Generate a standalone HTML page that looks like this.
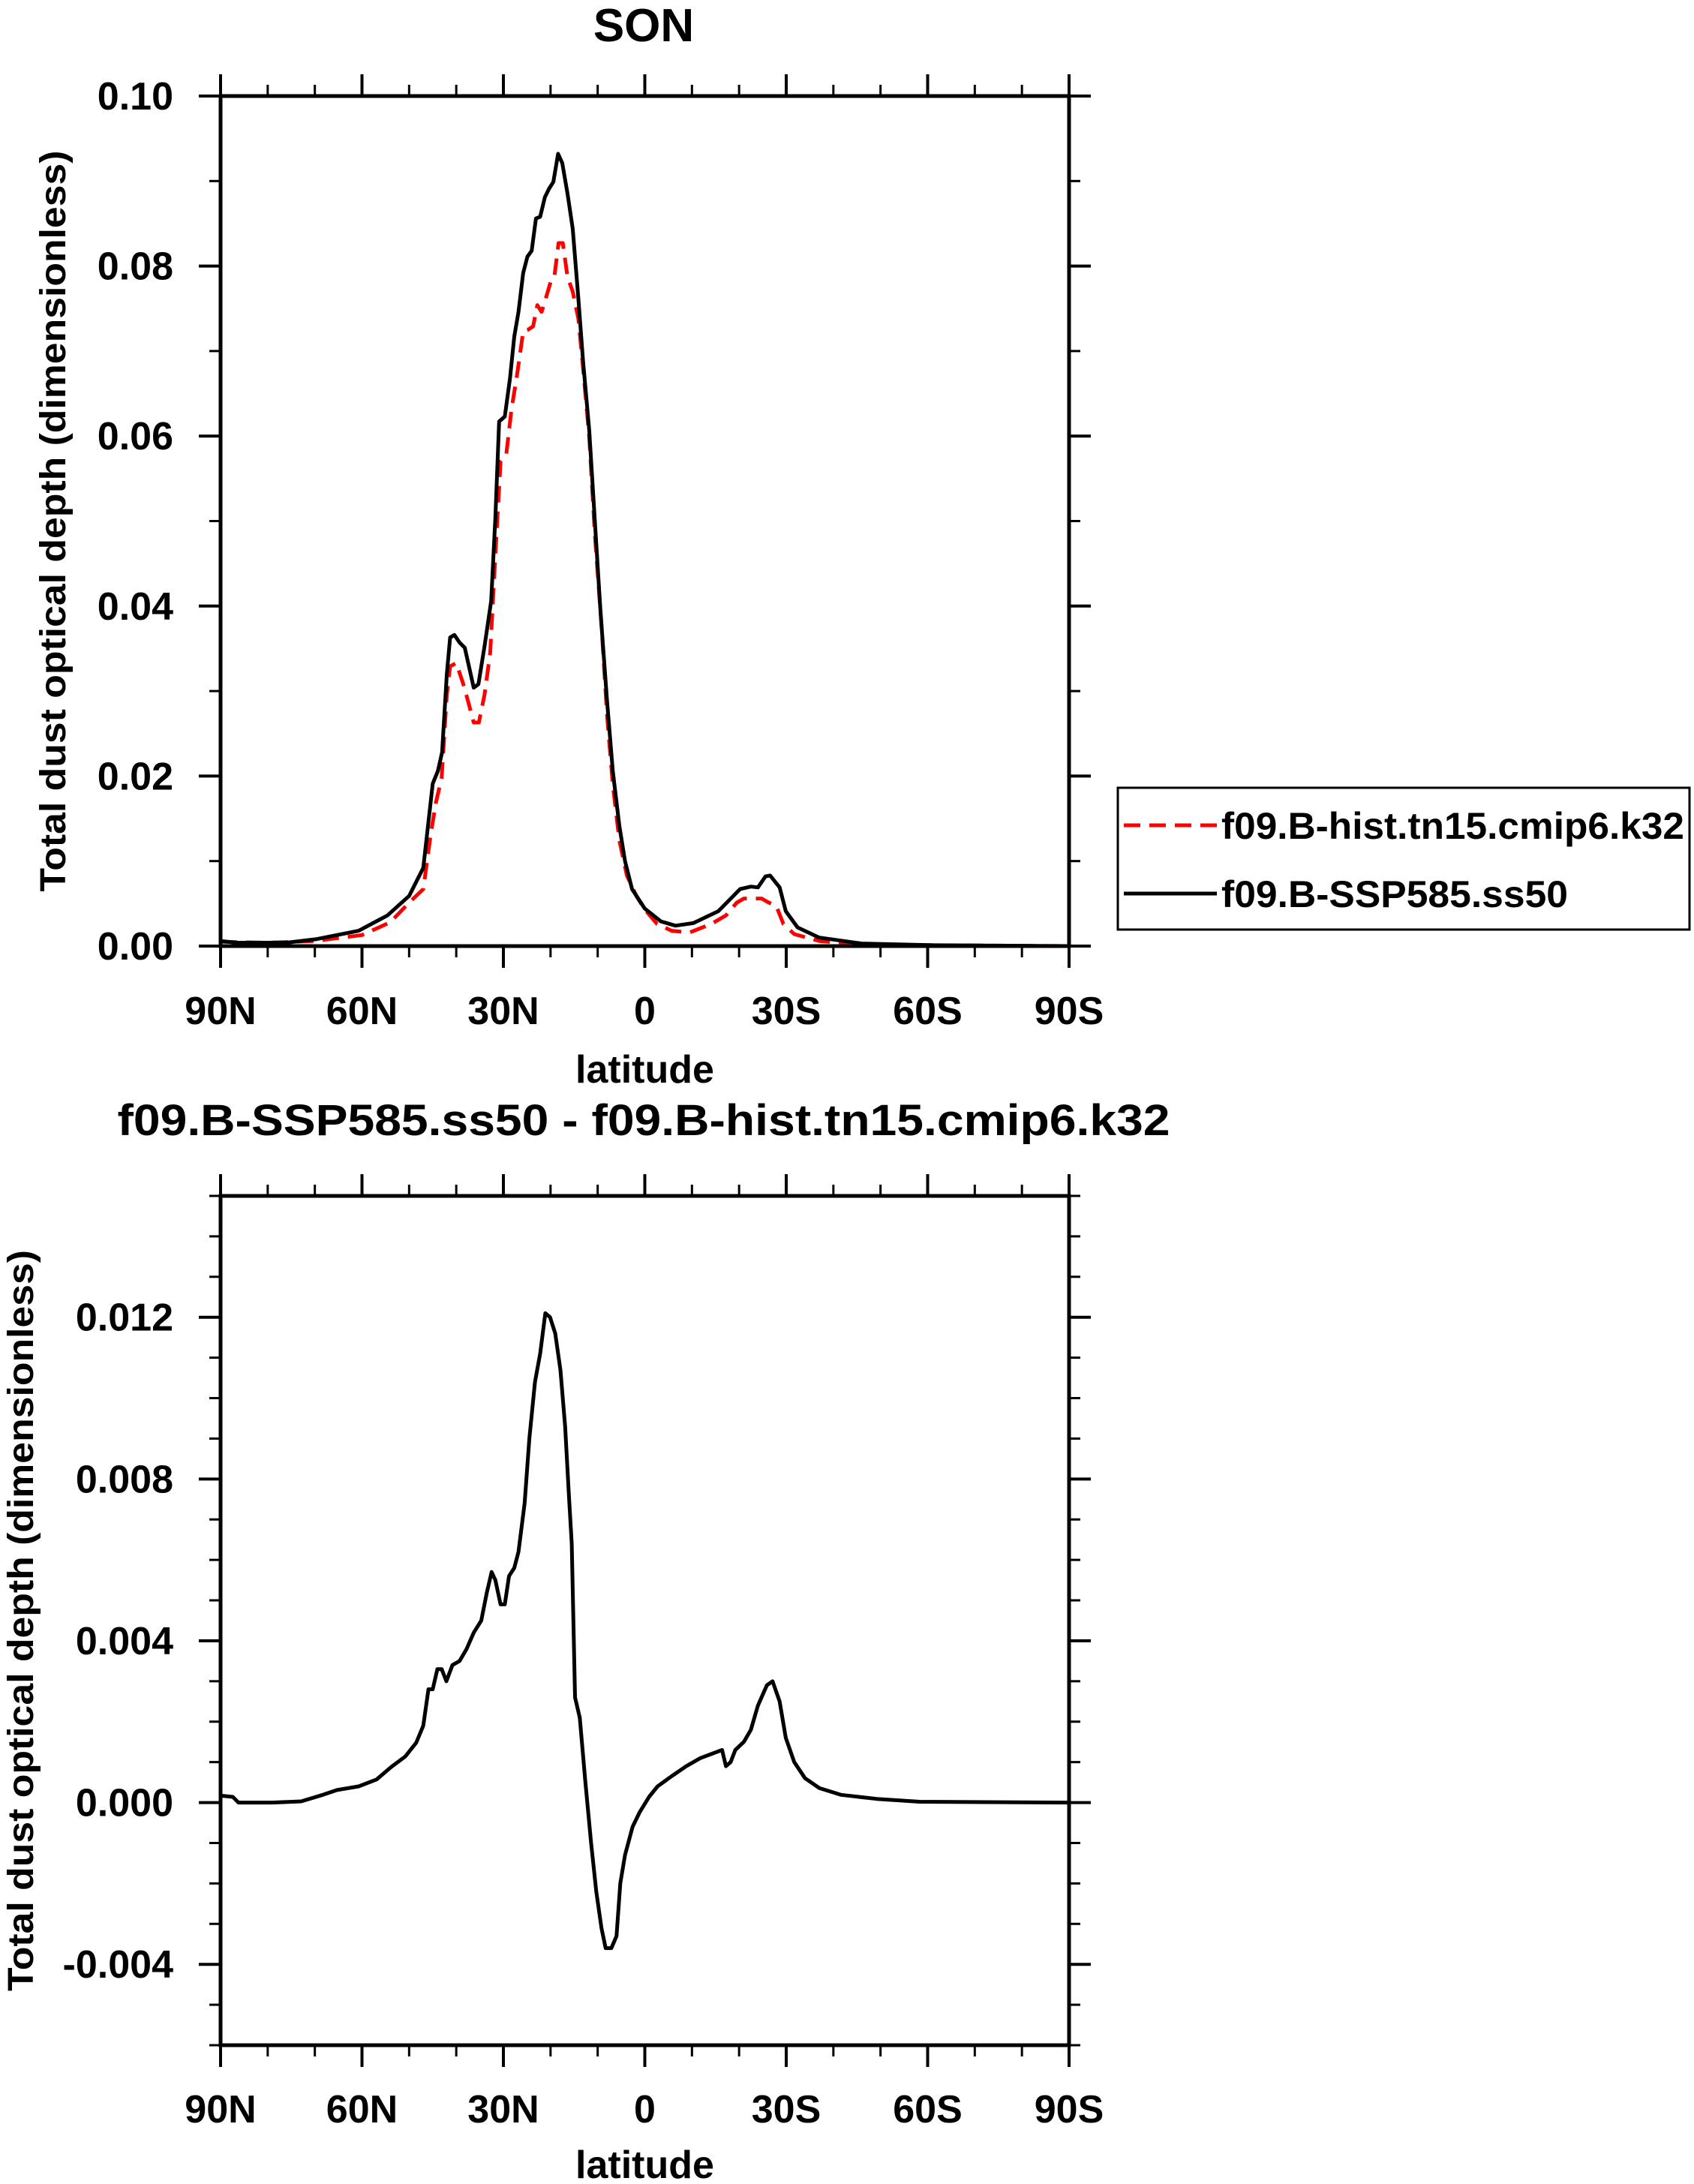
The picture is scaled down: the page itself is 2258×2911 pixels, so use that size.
<!DOCTYPE html>
<html><head><meta charset="utf-8"><style>
html,body{margin:0;padding:0;background:#fff;}
svg{display:block;}
text{font-family:"Liberation Sans",sans-serif;font-weight:bold;fill:#000;}
</style></head>
<body>
<svg id="chart" width="2258" height="2911" viewBox="0 0 2258 2911" xmlns="http://www.w3.org/2000/svg">
<g id="g1"></g>
<g id="g2"></g>
</svg>
<script>
const NS="http://www.w3.org/2000/svg";
// x ticks
const xTickLats=[90,60,30,0,-30,-60,-90];
const xTickLabels=["90N","60N","30N","0","30S","60S","90S"];
// top panel data
const histLat=[90,80,70,60,54,50,47,45.4,44.3,43.1,42,41.3,40,38.5,37.5,36.3,35.2,34,32.8,31.7,30.6,29.4,28.3,27.1,25.8,24.8,23.7,22.8,21.9,21,19.9,19.2,18.3,17.4,16.4,15.3,14.1,13.1,11.8,10.6,9.2,8,6.8,5.4,3.8,1.8,0,-2.6,-5.7,-9.5,-14.1,-17.2,-19.5,-21,-23,-24.8,-26,-27.9,-29.4,-31.7,-37,-46,-61,-90];
const histVal=[0.0005,0.0004,0.0006,0.0013,0.0028,0.0051,0.0067,0.0132,0.0169,0.0198,0.0296,0.0329,0.0333,0.0308,0.0288,0.0263,0.0263,0.0296,0.0345,0.046,0.057,0.0578,0.0631,0.0672,0.0723,0.0725,0.0729,0.0754,0.0746,0.0762,0.0783,0.0787,0.0827,0.0827,0.0787,0.077,0.0738,0.068,0.0599,0.0484,0.0378,0.0271,0.019,0.0124,0.0083,0.0059,0.0043,0.0026,0.0018,0.0016,0.0026,0.0036,0.0051,0.0056,0.0056,0.0056,0.0052,0.0047,0.0026,0.0014,0.0006,0.0002,0.0001,0];
const sspLat=[90,86.6,76,69.8,60.7,54.6,50,47,45,43.9,43,42,41.3,40.4,39.3,38.2,37.3,36.3,35.3,34,32.6,31.7,30.9,29.7,28.6,27.7,26.8,25.8,24.9,24,23.1,22.2,21.2,20.3,19.4,18.4,17.5,16.4,15.3,14.1,13.1,11.8,10.6,9.4,8,6.8,5.4,4.2,2.7,0,-3.4,-6.5,-10.3,-15.6,-20.2,-22.5,-24,-25.6,-26.6,-28.6,-29.9,-32.4,-37,-46,-61.4,-90];
const sspVal=[0.0006,0.0004,0.0004,0.0008,0.0018,0.0036,0.0059,0.0092,0.0191,0.0206,0.0228,0.032,0.0363,0.0366,0.0357,0.0351,0.0329,0.0304,0.0308,0.0353,0.0406,0.0504,0.0617,0.0623,0.0668,0.0717,0.0746,0.0792,0.0811,0.0818,0.0856,0.0858,0.0881,0.0891,0.0899,0.0932,0.0921,0.0885,0.0844,0.0762,0.0688,0.0607,0.050,0.0394,0.0288,0.0206,0.0141,0.010,0.0067,0.0044,0.0029,0.0024,0.0027,0.0041,0.0067,0.0070,0.0069,0.0082,0.0083,0.0069,0.0041,0.0022,0.0010,0.0003,0.0001,0];
const topYTicks=[0,0.02,0.04,0.06,0.08,0.10];
const topYLabels=["0.00","0.02","0.04","0.06","0.08","0.10"];
// difference panel data
const diffLat=[90,87.4,86.2,79,72.9,68.3,65.3,60.7,56.9,53.8,50.8,48.5,47,45.9,45,44,43.1,42.1,40.8,39.3,37.8,36.3,34.7,33.5,32.5,31.7,30.6,29.7,28.8,27.7,26.8,25.5,24.5,23.3,22.2,21.1,20.1,19,17.9,16.9,16.1,15.5,14.8,13.8,12.6,11.4,10.3,9.2,8.3,7.1,6,5.2,4.2,2.6,1.1,-0.9,-2.7,-5.8,-8.8,-11.8,-14.1,-16.4,-17.2,-18.2,-19.2,-21,-22.5,-24,-25.9,-27.1,-28.6,-29.9,-31.7,-34,-37,-41.6,-49.2,-58.3,-90];
const diffVal=[0.00017,0.00014,0,0,0.00003,0.00019,0.00031,0.0004,0.00057,0.00088,0.00114,0.00148,0.0019,0.0028,0.0028,0.0033,0.0033,0.003,0.0034,0.0035,0.0038,0.0042,0.0045,0.0052,0.0057,0.0055,0.0049,0.0049,0.0056,0.0058,0.0062,0.0074,0.009,0.0104,0.0111,0.0121,0.012,0.0116,0.0107,0.0093,0.0076,0.0064,0.0026,0.0021,0.0005,-0.001,-0.0022,-0.0031,-0.0036,-0.0036,-0.0033,-0.002,-0.0013,-0.0006,-0.00024,0.00014,0.0004,0.00066,0.0009,0.0011,0.0012,0.0013,0.0009,0.001,0.0013,0.0015,0.0018,0.0024,0.0029,0.003,0.0025,0.0016,0.001,0.0006,0.00036,0.00019,0.00009,0.00002,0];
const botYTicks=[-0.004,0,0.004,0.008,0.012];
const botYLabels=["-0.004","0.000","0.004","0.008","0.012"];

const L=294,R=1425;
function mk(parent,tag,attrs,text){const e=document.createElementNS(NS,tag);for(const k in attrs)e.setAttribute(k,attrs[k]);if(text!==undefined)e.textContent=text;parent.appendChild(e);return e;}
function xs(lat){return L+(90-lat)/180*(R-L);}

function panel(g,T,B,ymin,ymax,yMajor,yLabels,minorStep,xlabY,latY,ytitleX){
  const ys=v=>B-(v-ymin)/(ymax-ymin)*(B-T);
  const n=Math.round((ymax-ymin)/minorStep);
  for(let i=0;i<=n;i++){const v=ymin+i*minorStep;const y=ys(v);
    const t1=mk(g,'line',{x1:L-15,x2:L,y1:y,y2:y,stroke:'#000','stroke-width':3});
    
    const t2=mk(g,'line',{x1:R,x2:R+15,y1:y,y2:y,stroke:'#000','stroke-width':3});
    }
  yMajor.forEach((v,i)=>{const y=ys(v);
    const t1=mk(g,'line',{x1:L-29,x2:L,y1:y,y2:y,stroke:'#000','stroke-width':4});
    
    const t2=mk(g,'line',{x1:R,x2:R+29,y1:y,y2:y,stroke:'#000','stroke-width':4});
    
    const tl=mk(g,'text',{x:231,y:y+18,'text-anchor':'end','font-size':52},yLabels[i]);
    });
  for(let lat=90;lat>=-90;lat-=10){const x=xs(lat);const maj=(lat%30===0);const len=maj?29:15;const w=maj?4:3;
    const a=mk(g,'line',{x1:x,x2:x,y1:T-len,y2:T,stroke:'#000','stroke-width':w});
    
    const b=mk(g,'line',{x1:x,x2:x,y1:B,y2:B+len,stroke:'#000','stroke-width':w});
    }
  xTickLats.forEach((lat,i)=>{const t=mk(g,'text',{x:xs(lat),y:xlabY+18,'text-anchor':'middle','font-size':52},xTickLabels[i]);
    });
  const lt=mk(g,'text',{x:(L+R)/2,y:latY+18,'text-anchor':'middle','font-size':52},'latitude');
  
  const cy=(T+B)/2;
  const yt=mk(g,'text',{x:ytitleX,y:cy,'text-anchor':'middle','font-size':48,transform:`rotate(-90 ${ytitleX} ${cy})`,dy:16,textLength:988,lengthAdjust:'spacingAndGlyphs'},'Total dust optical depth (dimensionless)');
  
  return ys;
}
function line(g,lats,vals,ys,color,dash,name){
  const d=lats.map((la,i)=>(i?'L':'M')+xs(la).toFixed(1)+' '+ys(vals[i]).toFixed(1)).join(' ');
  const p=mk(g,'path',{d:d,fill:'none',stroke:color,'stroke-width':5,'stroke-linejoin':'round'});
  if(dash)p.setAttribute('stroke-dasharray',dash);
  
  
}
function frame(g,T,B){const f=mk(g,'rect',{x:L,y:T,width:R-L,height:B-T,fill:'none',stroke:'#000','stroke-width':5});
  }

const g1=document.getElementById('g1');
const t1=mk(g1,'text',{x:858,y:55,'text-anchor':'middle','font-size':62},'SON');

const ys1=panel(g1,128,1261,0,0.10,topYTicks,topYLabels,0.01,1347,1425,71);
line(g1,histLat,histVal,ys1,'#ff0000','22 12','hist-series-line');
line(g1,sspLat,sspVal,ys1,'#000','', 'ssp585-series-line');
frame(g1,128,1261);
const lg=mk(g1,'g',{});

const lb=mk(lg,'rect',{x:1490,y:1050,width:762,height:189,fill:'#fff',stroke:'#000','stroke-width':3});

const l1=mk(lg,'line',{x1:1498,x2:1622,y1:1100,y2:1100,stroke:'#ff0000','stroke-width':5,'stroke-dasharray':'22 12'});

const lt1=mk(lg,'text',{x:1628,y:1118,'font-size':50,textLength:617,lengthAdjust:'spacingAndGlyphs'},'f09.B-hist.tn15.cmip6.k32');

const l2=mk(lg,'line',{x1:1498,x2:1622,y1:1191,y2:1191,stroke:'#000','stroke-width':5});

const lt2=mk(lg,'text',{x:1628,y:1209,'font-size':50,textLength:462,lengthAdjust:'spacingAndGlyphs'},'f09.B-SSP585.ss50');


const g2=document.getElementById('g2');
const t2=mk(g2,'text',{x:858,y:1513,'text-anchor':'middle','font-size':58,textLength:1403,lengthAdjust:'spacingAndGlyphs'},'f09.B-SSP585.ss50 - f09.B-hist.tn15.cmip6.k32');

const ys2=panel(g2,1594,2726,-0.006,0.015,botYTicks,botYLabels,0.001,2811,2885,28);
line(g2,diffLat,diffVal,ys2,'#000','','difference-series-line');
frame(g2,1594,2726);
</script>
</body></html>
